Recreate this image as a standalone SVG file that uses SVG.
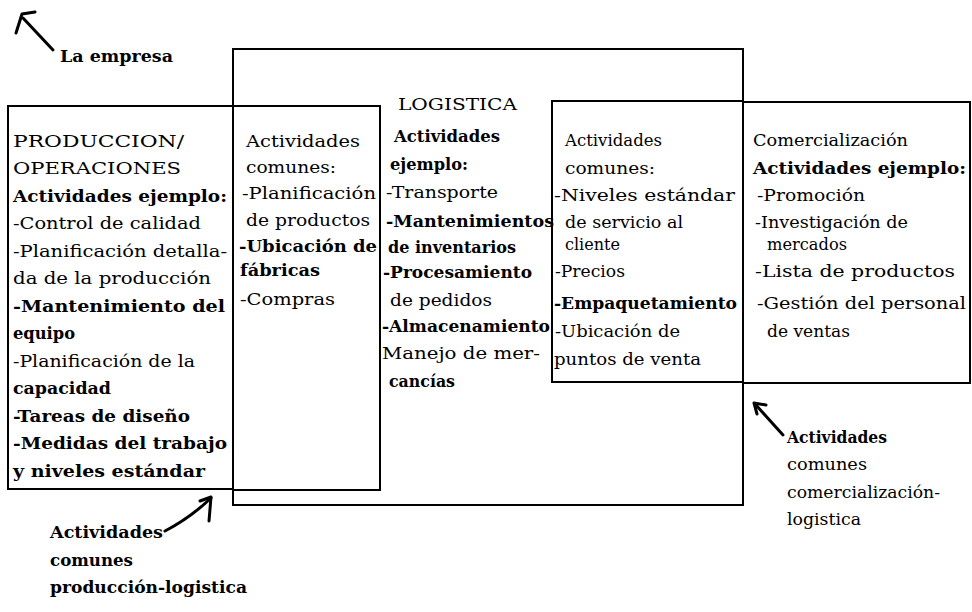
<svg xmlns="http://www.w3.org/2000/svg" width="972" height="612" viewBox="0 0 972 612">
<style>
.box{fill:none;stroke:#000;stroke-width:2}
text{font-family:"DejaVu Serif","Liberation Serif",serif;fill:#000;font-size:17px}
.b{font-weight:bold}
.arr{fill:none;stroke:#000;stroke-width:3;stroke-linecap:round;stroke-linejoin:round}
</style>
<rect width="972" height="612" fill="#fff"/>
<g id="logistica">
<rect class="box" x="233" y="49" width="510" height="456"/>
<text x="398" y="110" font-size="19" textLength="119" lengthAdjust="spacingAndGlyphs">LOGISTICA</text>
<text class="b" x="394" y="142" textLength="106" lengthAdjust="spacingAndGlyphs">Actividades</text>
<text class="b" x="390" y="170" textLength="78" lengthAdjust="spacingAndGlyphs">ejemplo:</text>
<text x="386" y="198" textLength="112" lengthAdjust="spacingAndGlyphs">-Transporte</text>
<text class="b" x="386" y="227" textLength="168" lengthAdjust="spacingAndGlyphs">-Mantenimientos</text>
<text class="b" x="388" y="253" textLength="128" lengthAdjust="spacingAndGlyphs">de inventarios</text>
<text class="b" x="383" y="278" textLength="149" lengthAdjust="spacingAndGlyphs">-Procesamiento</text>
<text x="390" y="306" textLength="102" lengthAdjust="spacingAndGlyphs">de pedidos</text>
<text class="b" x="382" y="332" textLength="168" lengthAdjust="spacingAndGlyphs">-Almacenamiento</text>
<text x="382" y="359" textLength="158" lengthAdjust="spacingAndGlyphs">Manejo de mer-</text>
<text class="b" x="389" y="387" textLength="66" lengthAdjust="spacingAndGlyphs">cancías</text>
</g>
<g id="produccion">
<rect class="box" x="8" y="106" width="225" height="383"/>
<text x="13" y="147" textLength="171" lengthAdjust="spacingAndGlyphs">PRODUCCION/</text>
<text x="13" y="174" textLength="168" lengthAdjust="spacingAndGlyphs">OPERACIONES</text>
<text class="b" x="13" y="202" textLength="214" lengthAdjust="spacingAndGlyphs">Actividades ejemplo:</text>
<text x="13" y="229" textLength="188" lengthAdjust="spacingAndGlyphs">-Control de calidad</text>
<text x="13" y="257" textLength="214" lengthAdjust="spacingAndGlyphs">-Planificación detalla-</text>
<text x="13" y="284" textLength="198" lengthAdjust="spacingAndGlyphs">da de la producción</text>
<text class="b" x="13" y="312" textLength="212" lengthAdjust="spacingAndGlyphs">-Mantenimiento del</text>
<text class="b" x="13" y="339" textLength="62" lengthAdjust="spacingAndGlyphs">equipo</text>
<text x="13" y="367" textLength="182" lengthAdjust="spacingAndGlyphs">-Planificación de la</text>
<text class="b" x="13" y="394" textLength="98" lengthAdjust="spacingAndGlyphs">capacidad</text>
<text class="b" x="13" y="422" textLength="177" lengthAdjust="spacingAndGlyphs">-Tareas de diseño</text>
<text class="b" x="13" y="449" textLength="214" lengthAdjust="spacingAndGlyphs">-Medidas del trabajo</text>
<text class="b" x="13" y="477" textLength="192" lengthAdjust="spacingAndGlyphs">y niveles estándar</text>
</g>
<g id="comunes-prod-log">
<rect class="box" x="233" y="106" width="147" height="384"/>
<text x="246" y="147" textLength="114" lengthAdjust="spacingAndGlyphs">Actividades</text>
<text x="246" y="173" textLength="90" lengthAdjust="spacingAndGlyphs">comunes:</text>
<text x="242" y="199" textLength="134" lengthAdjust="spacingAndGlyphs">-Planificación</text>
<text x="246" y="226" textLength="124" lengthAdjust="spacingAndGlyphs">de productos</text>
<text class="b" x="239" y="252" textLength="138" lengthAdjust="spacingAndGlyphs">-Ubicación de</text>
<text class="b" x="240" y="276" textLength="80" lengthAdjust="spacingAndGlyphs">fábricas</text>
<text x="240" y="305" textLength="95" lengthAdjust="spacingAndGlyphs">-Compras</text>
</g>
<g id="comunes-com-log">
<rect class="box" x="552" y="101" width="191" height="281"/>
<text x="565" y="146" textLength="97" lengthAdjust="spacingAndGlyphs">Actividades</text>
<text x="565" y="174" textLength="90" lengthAdjust="spacingAndGlyphs">comunes:</text>
<text x="554" y="201" textLength="181" lengthAdjust="spacingAndGlyphs">-Niveles estándar</text>
<text x="565" y="228" textLength="118" lengthAdjust="spacingAndGlyphs">de servicio al</text>
<text x="565" y="250" textLength="55" lengthAdjust="spacingAndGlyphs">cliente</text>
<text x="555" y="277" textLength="70" lengthAdjust="spacingAndGlyphs">-Precios</text>
<text class="b" x="554" y="309" textLength="183" lengthAdjust="spacingAndGlyphs">-Empaquetamiento</text>
<text x="555" y="337" textLength="125" lengthAdjust="spacingAndGlyphs">-Ubicación de</text>
<text x="554" y="365" textLength="147" lengthAdjust="spacingAndGlyphs">puntos de venta</text>
</g>
<g id="comercializacion">
<rect class="box" x="743" y="102" width="227" height="281"/>
<text x="753" y="146" textLength="155" lengthAdjust="spacingAndGlyphs">Comercialización</text>
<text class="b" x="753" y="174" textLength="213" lengthAdjust="spacingAndGlyphs">Actividades ejemplo:</text>
<text x="757" y="201" textLength="108" lengthAdjust="spacingAndGlyphs">-Promoción</text>
<text x="755" y="228" textLength="153" lengthAdjust="spacingAndGlyphs">-Investigación de</text>
<text x="767" y="250" textLength="80" lengthAdjust="spacingAndGlyphs">mercados</text>
<text x="755" y="277" textLength="200" lengthAdjust="spacingAndGlyphs">-Lista de productos</text>
<text x="757" y="309" textLength="209" lengthAdjust="spacingAndGlyphs">-Gestión del personal</text>
<text x="767" y="337" textLength="83" lengthAdjust="spacingAndGlyphs">de ventas</text>
</g>
<g id="label-empresa">
<text class="b" x="60" y="62" textLength="113" lengthAdjust="spacingAndGlyphs">La empresa</text>
</g>
<g id="label-prod-log">
<text class="b" x="50" y="538" textLength="113" lengthAdjust="spacingAndGlyphs">Actividades</text>
<text class="b" x="50" y="566" textLength="83" lengthAdjust="spacingAndGlyphs">comunes</text>
<text class="b" x="50" y="593" textLength="197" lengthAdjust="spacingAndGlyphs">producción-logistica</text>
</g>
<g id="label-com-log">
<text class="b" x="787" y="443" textLength="100" lengthAdjust="spacingAndGlyphs">Actividades</text>
<text x="787" y="470" textLength="80" lengthAdjust="spacingAndGlyphs">comunes</text>
<text x="787" y="498" textLength="153" lengthAdjust="spacingAndGlyphs">comercialización-</text>
<text x="787" y="525" textLength="74" lengthAdjust="spacingAndGlyphs">logistica</text>
</g>
<g id="connectors">
<path class="arr" d="M53,50 L23,18"/>
<path class="arr" d="M16,33 L22,14 L35,12"/>
<path class="arr" d="M165,531 Q190,518 211,498"/>
<path class="arr" d="M200,501 L211,497 L209,521"/>
<path class="arr" d="M783,435 L756,405"/>
<path class="arr" d="M757,414 L754,403 L766,405"/>
</g>
</svg>
